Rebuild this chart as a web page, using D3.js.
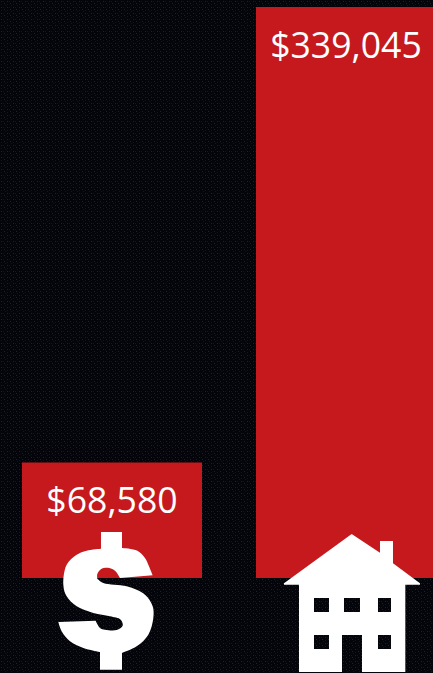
<!DOCTYPE html>
<html>
<head>
<meta charset="utf-8">
<script src="https://cdn.jsdelivr.net/npm/d3@7/dist/d3.min.js"></script>
<style>html,body{margin:0;padding:0;background:#05060c;overflow:hidden}svg{display:block}</style>
</head>
<body>
<div id="chart"></div>
<script>
const categories = ["Income", "Home price"];
const values = [68580, 339045];
const labels = ["$68,580", "$339,045"];

const W = 433, H = 673, baseY = 578, topY = 7;
const x = d3.scaleBand().domain(categories).range([22, 436]).paddingInner(54 / 234);
const y = d3.scaleLinear().domain([0, 339045]).range([baseY, topY]);

const svg = d3.select("#chart").append("svg").attr("width", W).attr("height", H);
const defs = svg.append("defs");
const pat = defs.append("pattern").attr("id", "bgp").attr("width", 6).attr("height", 6).attr("patternUnits", "userSpaceOnUse");
pat.append("rect").attr("width", 6).attr("height", 6).attr("fill", "#04050b");
pat.append("rect").attr("x", 1).attr("y", 1).attr("width", 1).attr("height", 1).attr("fill", "#1a1c4c");
pat.append("rect").attr("x", 3).attr("y", 1).attr("width", 1).attr("height", 1).attr("fill", "#101232");
pat.append("rect").attr("x", 1).attr("y", 4).attr("width", 1).attr("height", 1).attr("fill", "#101232");
pat.append("rect").attr("x", 4).attr("y", 3).attr("width", 1).attr("height", 1).attr("fill", "#1a1c4c");
pat.append("rect").attr("x", 5).attr("y", 5).attr("width", 1).attr("height", 1).attr("fill", "#101232");
svg.append("rect").attr("width", W).attr("height", H).attr("fill", "url(#bgp)");

svg.selectAll("rect.bar").data(categories).join("rect").attr("class", "bar")
  .attr("x", d => x(d))
  .attr("y", (d, i) => y(values[i]))
  .attr("width", x.bandwidth())
  .attr("height", (d, i) => baseY - y(values[i]))
  .attr("fill", "#c5191d");

svg.selectAll("text.val").data(labels).join("text").attr("class", "val")
  .attr("x", (d, i) => x(categories[i]) + x.bandwidth() / 2)
  .attr("y", (d, i) => y(values[i]) + 50.5)
  .attr("text-anchor", "middle")
  .attr("font-family", "'Open Sans', sans-serif")
  .attr("font-size", 35.6)
  .attr("fill", "#fff")
  .text(d => d);

// Dollar icon, smooth runs traced in 3x crop coordinates
const smooth = d3.line().curve(d3.curveCatmullRom);
const seg = pts => smooth(pts).replace(/^M/, "L");
const dollarD = "M153 12L216 12" +
  seg([[216,60],[262,68],[285,90],[297,115],[308,142]]) +
  seg([[210,150],[195,128],[178,120],[155,122],[142,138],[142,152]]) +
  seg([[142,152],[160,165],[230,175],[285,200],[308,235],[310,270],[295,320],[260,355],[216,375]]) +
  "L216 425L150 425" +
  seg([[150,372],[100,360],[60,340],[35,310],[25,282]]) +
  "L137 278" +
  seg([[137,278],[150,300],[165,305],[200,306],[218,293],[212,275],[180,265],[130,255],[80,235],[50,205],[40,170],[50,110],[80,80],[110,68],[153,62]]) +
  "Z";
svg.append("path")
  .attr("transform", "translate(50,528) scale(0.3333)")
  .attr("fill", "#fff")
  .attr("d", dollarD);

// House icon, traced in 3x crop coordinates
svg.append("path")
  .attr("transform", "translate(250,520) scale(0.3333)")
  .attr("fill", "#fff")
  .attr("fill-rule", "evenodd")
  .attr("d", "M305 42L390 98L390 63L429 63L429 130L510 190L510 194L466 194L466 456L336 456L336 345L276 345L276 456L147 456L147 194L102 194L102 190Z" +
    "M192 234H237V276H192Z M282 234H330V276H282Z M384 234H423V276H384Z M192 345H237V387H192Z M384 345H423V387H384Z");
</script>
</body>
</html>
